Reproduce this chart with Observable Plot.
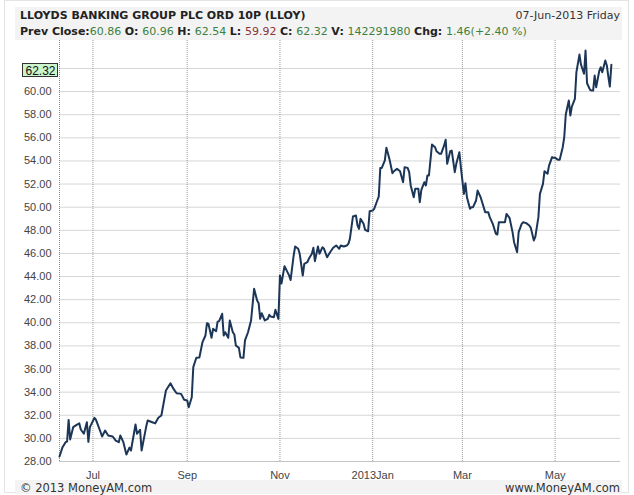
<!DOCTYPE html>
<html><head><meta charset="utf-8">
<script src="https://cdn.jsdelivr.net/npm/d3@7"></script>
<script src="https://cdn.jsdelivr.net/npm/@observablehq/plot@0.6"></script>
<style>
body{margin:0;background:#fff;}
#wrap{position:relative;width:634px;height:495px;overflow:hidden;font-family:"DejaVu Sans",Verdana,sans-serif;background:#fff;}
#border{position:absolute;left:4px;top:0;width:625px;height:493px;border:1px solid #e4e4e4;box-sizing:border-box;}
#head{position:absolute;left:15px;top:7px;width:607px;height:33px;background:#f3f3f3;}
#foot{position:absolute;left:15px;top:480px;width:607px;height:14px;background:#f3f3f3;}
.ln{position:absolute;white-space:nowrap;line-height:14px;}
#t1{left:20px;top:9px;font-weight:bold;font-size:11px;color:#222;}
#t1r{right:14px;top:9px;font-size:11px;color:#333;}
#t2{left:20px;top:25px;font-size:11px;color:#222;}
#t2 b{color:#222;}
#t2 .g{color:#3d7f3d;}
#t2 .r{color:#8a3535;}
#f1{left:20px;top:481px;font-size:11.5px;color:#333;}
#f2{right:14px;top:481px;font-size:11.5px;color:#333;}
#chart{position:absolute;left:0;top:40px;}
#lastbox{position:absolute;left:22px;width:36px;height:14px;background:#ccf5cc;border:1px solid #333;box-sizing:border-box;}
</style></head>
<body>
<div id="wrap">
  <div id="border"></div>
  <div id="head"></div>
  <div id="foot"></div>
  <div class="ln" id="t1"></div>
  <div class="ln" id="t1r"></div>
  <div class="ln" id="t2"></div>
  <div class="ln" id="f1"></div>
  <div class="ln" id="f2"></div>
  <div id="lastbox"></div>
  <div id="chart"></div>
</div>
<script>
// ---- text ----
const titleText = "LLOYDS BANKING GROUP PLC ORD 10P (LLOY)";
const dateText = "07-Jun-2013 Friday";
const statLabels = ["Prev Close:", "O: ", "H: ", "L: ", "C: ", "V: ", "Chg: "];
const statValues = ["60.86", "60.96", "62.54", "59.92", "62.32", "142291980", "1.46(+2.40 %)"];
const statColors = ["g", "g", "g", "r", "g", "g", "g"];
const footLeft = "© 2013 MoneyAM.com";
const footRight = "www.MoneyAM.com";

// ---- axis ticks ----
const yTicks = [28, 30, 32, 34, 36, 38, 40, 42, 44, 46, 48, 50, 52, 54, 56, 58, 60, 62];
const xTickDates = ["2012-07-01", "2012-09-01", "2012-11-01", "2013-01-01", "2013-03-01", "2013-05-01"];
const xTickLabels = ["Jul", "Sep", "Nov", "2013Jan", "Mar", "May"];

// ---- series ----
const dates = [
"2012-06-09","2012-06-11","2012-06-13","2012-06-14","2012-06-15","2012-06-16","2012-06-18","2012-06-20","2012-06-22","2012-06-23",
"2012-06-25","2012-06-27","2012-06-28","2012-06-29","2012-07-02","2012-07-03","2012-07-06","2012-07-07","2012-07-09","2012-07-11",
"2012-07-14","2012-07-16","2012-07-18","2012-07-19","2012-07-21","2012-07-23","2012-07-25","2012-07-26","2012-07-29","2012-07-30",
"2012-08-01","2012-08-02","2012-08-05","2012-08-06","2012-08-09","2012-08-11","2012-08-13","2012-08-15","2012-08-18","2012-08-21",
"2012-08-23","2012-08-25","2012-08-28","2012-08-30","2012-09-01","2012-09-02","2012-09-04","2012-09-05","2012-09-07","2012-09-09",
"2012-09-11","2012-09-13","2012-09-14","2012-09-15","2012-09-17","2012-09-18","2012-09-20","2012-09-21","2012-09-22","2012-09-24",
"2012-09-25","2012-09-26","2012-09-28","2012-09-29","2012-10-01","2012-10-02","2012-10-03","2012-10-05","2012-10-06","2012-10-08",
"2012-10-09","2012-10-11","2012-10-13","2012-10-15","2012-10-17","2012-10-18","2012-10-19","2012-10-20","2012-10-22","2012-10-24",
"2012-10-25","2012-10-26","2012-10-28","2012-10-29","2012-10-31","2012-11-01","2012-11-02","2012-11-04","2012-11-07","2012-11-08",
"2012-11-10","2012-11-11","2012-11-13","2012-11-14","2012-11-16","2012-11-17","2012-11-19","2012-11-20","2012-11-22","2012-11-23",
"2012-11-24","2012-11-26","2012-11-27","2012-11-29","2012-11-30","2012-12-02","2012-12-04","2012-12-06","2012-12-08","2012-12-10",
"2012-12-11","2012-12-13","2012-12-15","2012-12-16","2012-12-17","2012-12-19","2012-12-21","2012-12-22","2012-12-23","2012-12-24",
"2012-12-26","2012-12-27","2012-12-29","2012-12-30","2013-01-01","2013-01-02","2013-01-04","2013-01-05","2013-01-06","2013-01-07",
"2013-01-09","2013-01-10","2013-01-12","2013-01-14","2013-01-15","2013-01-17","2013-01-19","2013-01-21","2013-01-22","2013-01-24",
"2013-01-25","2013-01-26","2013-01-28","2013-01-29","2013-01-31","2013-02-01","2013-02-02","2013-02-04","2013-02-05","2013-02-06",
"2013-02-07","2013-02-09","2013-02-11","2013-02-12","2013-02-14","2013-02-15","2013-02-17","2013-02-18","2013-02-19","2013-02-21",
"2013-02-22","2013-02-24","2013-02-25","2013-02-27","2013-02-28","2013-03-02","2013-03-03","2013-03-04","2013-03-06","2013-03-07",
"2013-03-08","2013-03-10","2013-03-11","2013-03-13","2013-03-14","2013-03-16","2013-03-18","2013-03-19","2013-03-21","2013-03-23",
"2013-03-24","2013-03-25","2013-03-27","2013-03-29","2013-03-30","2013-04-01","2013-04-03","2013-04-04","2013-04-06","2013-04-07",
"2013-04-09","2013-04-10","2013-04-12","2013-04-14","2013-04-15","2013-04-17","2013-04-18","2013-04-20","2013-04-21","2013-04-23",
"2013-04-24","2013-04-26","2013-04-27","2013-04-29","2013-04-30","2013-05-01","2013-05-03","2013-05-04","2013-05-06","2013-05-07",
"2013-05-08","2013-05-10","2013-05-11","2013-05-12","2013-05-14","2013-05-15","2013-05-17","2013-05-18","2013-05-20","2013-05-21",
"2013-05-22","2013-05-24","2013-05-25","2013-05-26","2013-05-27","2013-05-28","2013-05-30","2013-05-31","2013-06-01","2013-06-03",
"2013-06-04","2013-06-05","2013-06-06","2013-06-07"];
const closes = [
28.43,29.24,29.67,29.73,31.6,29.9,30.97,31.15,31.3,30.77,
30.4,31.4,29.7,30.97,31.78,31.6,30.55,30.16,30.68,30.25,
30.16,29.8,29.67,30.25,29.67,28.6,29.2,28.95,31.2,30.4,
30.74,28.95,31.0,31.55,31.4,31.3,31.78,31.98,34.14,34.77,
34.28,33.9,33.85,33.34,33.28,32.7,33.56,36.16,36.97,37.0,
38.3,38.9,39.96,39.9,38.7,39.48,39.27,40.1,40.14,40.78,
38.9,39.18,38.7,40.2,39.18,38.99,38.03,37.83,37.0,36.97,
38.47,39.18,40.2,42.94,41.93,41.7,40.34,40.83,40.2,40.34,
40.69,40.54,40.48,41.12,40.34,44.1,43.4,44.9,44.1,43.7,
45.8,46.6,46.4,45.97,44.09,45.1,45.24,45.53,45.97,46.49,
45.33,46.6,45.97,46.54,46.4,45.67,46.1,46.49,46.69,46.4,
46.69,46.6,46.69,46.83,47.26,49.19,49.28,48.42,48.13,48.99,
48.56,48.04,47.92,49.65,49.71,49.86,50.58,50.92,53.4,53.4,
54.04,55.14,54.18,52.94,53.11,53.32,53.11,52.16,53.46,53.4,
53.03,51.88,50.86,51.6,51.6,50.43,51.5,52.16,51.88,52.74,
52.74,55.42,55.19,54.84,54.62,54.62,55.34,55.83,53.75,54.84,
54.9,53.03,53.75,54.76,53.46,51.15,52.08,50.86,49.86,50.0,
50.0,50.58,51.44,50.86,50.43,49.57,49.57,49.14,48.56,47.7,
47.64,48.7,48.7,48.7,49.42,49.08,47.84,46.97,46.1,47.84,
48.56,48.7,48.62,48.42,48.21,47.12,47.46,49.14,51.15,52.02,
53.11,52.89,53.6,54.33,54.27,54.27,54.1,54.1,55.19,56.05,
58.02,59.23,57.93,58.71,59.37,61.68,63.2,62.34,61.54,63.55,
60.72,60.15,60.09,60.09,61.39,60.38,61.77,62.11,61.68,62.69,
62.26,61.3,60.44,62.32];

// ---- header / footer text ----
document.getElementById("t1").textContent = titleText;
document.getElementById("t1r").textContent = dateText;
const t2 = d3.select("#t2");
statLabels.forEach((lab, i) => {
  t2.append("b").text(lab);
  t2.append("span").attr("class", statColors[i]).text(statValues[i] + (i < statLabels.length - 1 ? " " : ""));
});
document.getElementById("f1").textContent = footLeft;
document.getElementById("f2").textContent = footRight;

// ---- chart ----
const data = dates.map((d, i) => ({date: new Date(d), close: closes[i]}));
const monthTicks = xTickDates.map(d => new Date(d));
const labelByTime = new Map(monthTicks.map((d, i) => [+d, xTickLabels[i]]));
const xDomain = [new Date("2012-06-09"), new Date("2013-06-13")];
const last = closes[closes.length - 1];
const labelOffset = 6;

const chart = Plot.plot({
  width: 634,
  height: 442,
  marginLeft: 59,
  marginRight: 14,
  marginTop: 0,
  marginBottom: 21,
  style: {fontFamily: '"Liberation Sans", Arial, sans-serif', fontSize: "11px", color: "#444", background: "transparent", overflow: "visible"},
  x: {type: "utc", domain: xDomain},
  y: {domain: [28, 64.42]},
  marks: [
    Plot.ruleY(yTicks, {stroke: "#d6d6d6"}),
    Plot.ruleX(monthTicks, {stroke: "#9a9a9a", strokeDasharray: "1,1"}),
    Plot.ruleX([xDomain[0]], {stroke: "#8a8a8a", strokeDasharray: "1,1"}),
    Plot.ruleY([28], {stroke: "#c4c4c4"}),
    Plot.axisY({ticks: yTicks, tickSize: 0, tickPadding: 8, label: null, tickFormat: d => d === 62 ? "" : d.toFixed(2)}),
    Plot.axisX({ticks: monthTicks, tickSize: 0, tickPadding: 10, label: null, tickFormat: d => labelByTime.get(+d)}),
    Plot.line(data, {x: "date", y: "close", stroke: "#1c3658", strokeWidth: 2}),
    Plot.text([last], {y: d => d, frameAnchor: "left", dx: -34, dy: labelOffset, text: d => d.toFixed(2), textAnchor: "start", fontSize: 12, fill: "#111"})
  ]
});
document.getElementById("chart").appendChild(chart);

// green box behind the last-value label, placed with the chart's own y scale
const yPix = chart.scale("y").apply(last);
document.getElementById("lastbox").style.top = (40 + yPix + labelOffset - 7) + "px";
</script>
</body></html>
